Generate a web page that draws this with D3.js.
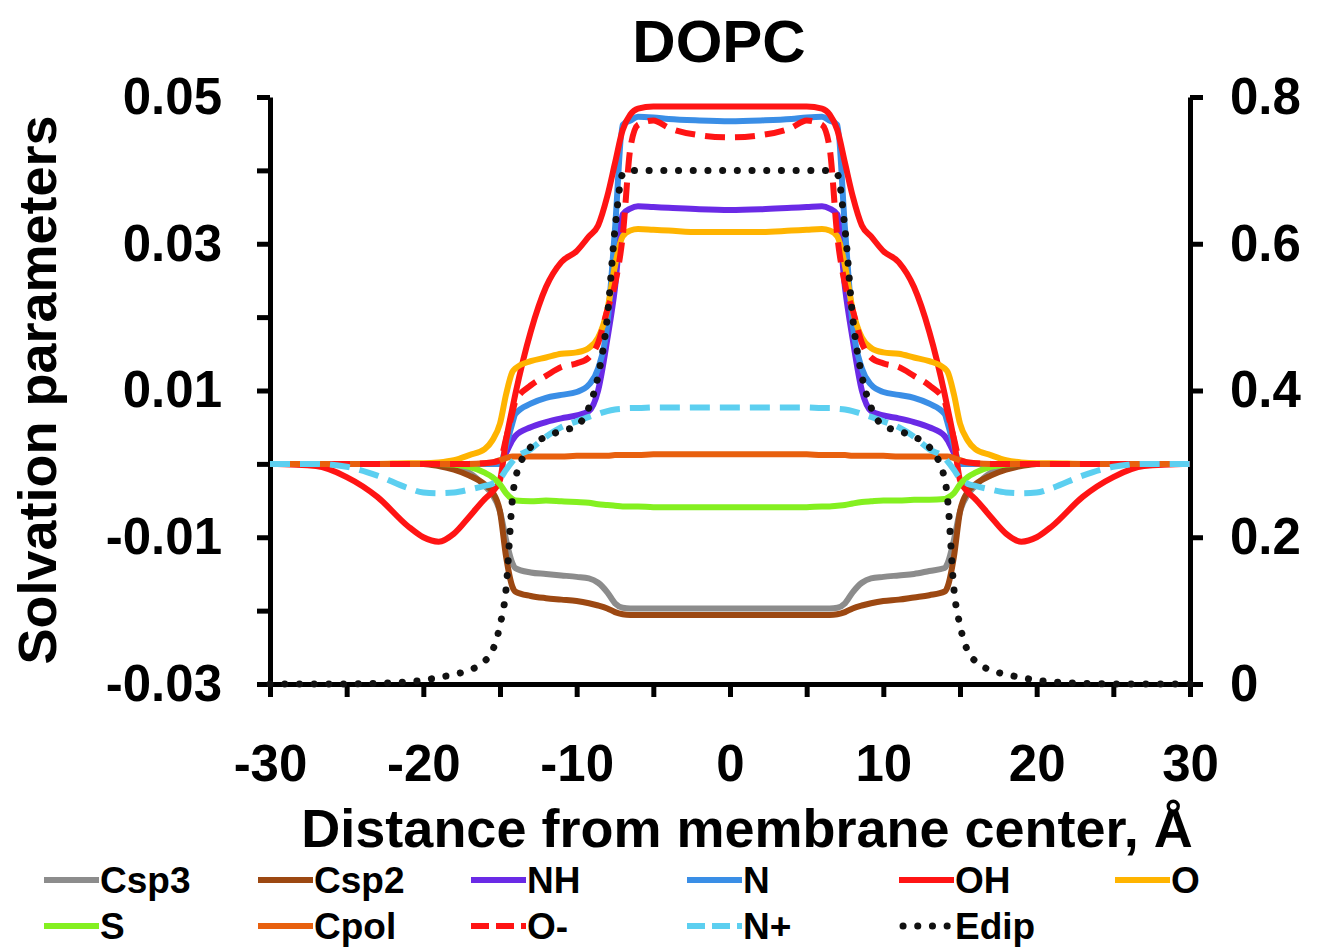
<!DOCTYPE html>
<html>
<head>
<meta charset="utf-8">
<script src="https://cdn.jsdelivr.net/npm/d3@7"></script>
<style>
  body { margin: 0; background: #fff; }
  text { font-family: "Liberation Sans", Arial, sans-serif; font-weight: bold; fill: #000; }
</style>
</head>
<body>
<div class="chart"></div>
<script>
// distance from membrane center, Å
const distance = [-30,-27,-25,-23,-21,-20,-19,-18,-17,-16,-15.5,-15,-14.6,-14.2,-14,-13,-12,-11,-10,-9.2,-8.6,-8,-7.5,-7,-6.5,-6,-5,-4,-2,
    0,
    2,4,5,6,6.5,7,7.5,8,8.6,9.2,10,11,12,13,14,14.2,14.6,15,15.5,16,17,18,19,20,21,23,25,27,30];

const csp3 = [0,0,0,0,0,0,0,-0.0004,-0.0012,-0.003,-0.0042,-0.0065,-0.0104,-0.0135,-0.0142,-0.0148,-0.015,-0.0152,-0.0154,-0.0156,-0.0162,-0.0175,-0.019,-0.0196,-0.0197,-0.0197,-0.0197,-0.0197,-0.0197,
    -0.0197,
    -0.0197,-0.0197,-0.0197,-0.0197,-0.0197,-0.0196,-0.019,-0.0175,-0.0162,-0.0156,-0.0154,-0.0152,-0.015,-0.0146,-0.0142,-0.0135,-0.0104,-0.0065,-0.0042,-0.003,-0.0012,-0.0004,0,0,0,0,0,0,0];
const csp2 = [0,0,0,0,0,0,-0.0003,-0.0008,-0.0016,-0.0028,-0.0038,-0.0065,-0.0127,-0.0167,-0.0174,-0.018,-0.0183,-0.0185,-0.0187,-0.019,-0.0193,-0.0197,-0.0202,-0.0205,-0.0206,-0.0206,-0.0206,-0.0206,-0.0206,
    -0.0206,
    -0.0206,-0.0206,-0.0206,-0.0206,-0.0206,-0.0205,-0.0202,-0.0197,-0.0193,-0.019,-0.0187,-0.0185,-0.0182,-0.0179,-0.0174,-0.0167,-0.0127,-0.0065,-0.0038,-0.0028,-0.0016,-0.0008,-0.0003,0,0,0,0,0,0];
const nh = [0,0,0,0,0,0,0,0,0,0,0,0,0.0015,0.0032,0.0038,0.005,0.0057,0.0062,0.0066,0.0072,0.01,0.017,0.024,0.034,0.0348,0.0351,0.035,0.0349,0.0347,
    0.0346,
    0.0347,0.0349,0.035,0.0351,0.0348,0.034,0.024,0.017,0.01,0.0072,0.0066,0.0062,0.0057,0.005,0.0038,0.0032,0.0015,0,0,0,0,0,0,0,0,0,0,0,0];
const n = [0,0,0,0,0,0,0,0,0,0,0,0,0.0025,0.0055,0.0068,0.0082,0.009,0.0094,0.0098,0.0108,0.013,0.019,0.032,0.0462,0.0468,0.0473,0.0472,0.047,0.0468,
    0.0467,
    0.0468,0.047,0.0472,0.0473,0.0468,0.0462,0.032,0.019,0.013,0.0108,0.0098,0.0094,0.009,0.0082,0.0068,0.0055,0.0025,0,0,0,0,0,0,0,0,0,0,0,0];
const oh = [0,-0.0003,-0.0018,-0.0045,-0.0085,-0.01,-0.0106,-0.0095,-0.0072,-0.0048,-0.0038,-0.0022,0.0033,0.0075,0.0095,0.018,0.0241,0.0275,0.029,0.031,0.0325,0.0365,0.041,0.0455,0.0476,0.0484,0.0487,0.0487,0.0487,
    0.0487,
    0.0487,0.0487,0.0487,0.0484,0.0476,0.0455,0.041,0.0365,0.0325,0.031,0.029,0.0275,0.0241,0.018,0.0095,0.0075,0.0033,-0.0022,-0.0038,-0.0048,-0.0072,-0.0095,-0.0106,-0.01,-0.0085,-0.0045,-0.0018,-0.0003,0];
const o = [0,0,0,0,0.0001,0.0001,0.0002,0.0005,0.0012,0.002,0.0032,0.0055,0.0095,0.0125,0.013,0.014,0.0145,0.015,0.0152,0.0158,0.0172,0.021,0.027,0.031,0.0318,0.032,0.0319,0.0318,0.0316,
    0.0316,
    0.0316,0.0318,0.0319,0.032,0.0318,0.031,0.027,0.021,0.0172,0.0158,0.0152,0.015,0.0145,0.014,0.013,0.0125,0.0095,0.0055,0.0032,0.002,0.0012,0.0005,0.0002,0.0001,0.0001,0,0,0,0];
const s = [0,0,0,0,0,0,0,-0.0001,-0.0004,-0.0012,-0.0018,-0.0028,-0.004,-0.0048,-0.005,-0.0051,-0.005,-0.0051,-0.0052,-0.0053,-0.0055,-0.0056,-0.0057,-0.0058,-0.0058,-0.0058,-0.0059,-0.0059,-0.0059,
    -0.0059,
    -0.0059,-0.0059,-0.0059,-0.0058,-0.0058,-0.0057,-0.0056,-0.0054,-0.0052,-0.0051,-0.005,-0.005,-0.0049,-0.0049,-0.0048,-0.0046,-0.004,-0.0028,-0.0018,-0.0012,-0.0004,-0.0001,0,0,0,0,0,0,0];
const cpol = [0,0,0,0,0,0,0,0,0,0.0001,0.0002,0.0005,0.0008,0.001,0.001,0.001,0.001,0.001,0.0011,0.0011,0.0011,0.0011,0.0012,0.0012,0.0012,0.0012,0.0013,0.0013,0.0013,
    0.0013,
    0.0013,0.0013,0.0013,0.0012,0.0012,0.0012,0.0012,0.0011,0.0011,0.0011,0.0011,0.001,0.001,0.001,0.001,0.001,0.0008,0.0005,0.0002,0.0001,0,0,0,0,0,0,0,0,0];
const oMinus = [0,0,0,0,0,0,0,0,0,0.0001,0.0002,0.0005,0.0035,0.0069,0.0085,0.0107,0.012,0.0132,0.0137,0.0145,0.0165,0.021,0.0245,0.031,0.043,0.0462,0.0468,0.0458,0.0448,
    0.0445,
    0.0448,0.0458,0.0468,0.0462,0.043,0.031,0.0245,0.021,0.0165,0.0145,0.0137,0.0132,0.012,0.0107,0.0085,0.0069,0.0035,0.0005,0.0002,0.0001,0,0,0,0,0,0,0,0,0];
const nPlus = [0,0,-0.0004,-0.0016,-0.0033,-0.0039,-0.004,-0.0039,-0.0035,-0.003,-0.0027,-0.002,-0.0008,0.0003,0.0008,0.002,0.0037,0.005,0.0058,0.0064,0.0068,0.0072,0.0074,0.0075,0.0076,0.0076,0.0077,0.0077,0.0077,
    0.0077,
    0.0077,0.0077,0.0077,0.0076,0.0076,0.0075,0.0074,0.0072,0.0068,0.0064,0.0058,0.005,0.0037,0.002,0.0008,0.0003,-0.0008,-0.002,-0.0027,-0.003,-0.0035,-0.0039,-0.004,-0.0039,-0.0033,-0.0016,-0.0004,0,0];
// right axis
const edip = [0,0,0,0.001,0.003,0.005,0.009,0.013,0.019,0.031,0.045,0.08,0.13,0.25,0.28,0.323,0.337,0.345,0.352,0.377,0.42,0.5,0.62,0.695,0.7,0.7,0.7,0.7,0.7,
    0.7,
    0.7,0.7,0.7,0.7,0.7,0.695,0.62,0.5,0.42,0.377,0.352,0.345,0.337,0.323,0.28,0.25,0.13,0.08,0.045,0.031,0.019,0.013,0.009,0.005,0.003,0.001,0,0,0];

const seriesNames = ['Csp3', 'Csp2', 'NH', 'N', 'OH', 'O', 'S', 'Cpol', 'O-', 'N+', 'Edip'];
const seriesValues = [csp3, csp2, nh, n, oh, o, s, cpol, oMinus, nPlus, edip];

const xTicks = [-30, -25, -20, -15, -10, -5, 0, 5, 10, 15, 20, 25, 30];
const xLabels = [-30, -20, -10, 0, 10, 20, 30];
const yTicks = [-0.03, -0.02, -0.01, 0, 0.01, 0.02, 0.03, 0.04, 0.05];
const yLabels = ['-0.03', '', '-0.01', '', '0.01', '', '0.03', '', '0.05'];
const rTicks = [0, 0.2, 0.4, 0.6, 0.8];
const rLabels = ['0', '0.2', '0.4', '0.6', '0.8'];

const styles = {
    'Csp3': { color: '#8c8c8c', dash: null },
    'Csp2': { color: '#9c4812', dash: null },
    'NH':   { color: '#6a2ae6', dash: null },
    'N':    { color: '#3a8ee6', dash: null },
    'OH':   { color: '#ff1414', dash: null },
    'O':    { color: '#ffb400', dash: null },
    'S':    { color: '#84f020', dash: null },
    'Cpol': { color: '#e8600e', dash: null },
    'O-':   { color: '#ff1414', dash: '20 10' },
    'N+':   { color: '#5ccff0', dash: '20 10' },
    'Edip': { color: '#111111', dash: 'dot' }
};

const fullWidth = 1318;
const fullHeight = 949;
const margin = { top: 97, right: 128, bottom: 265, left: 270 };

const svg = d3.select('.chart')
    .append('svg')
        .attr('width', fullWidth)
        .attr('height', fullHeight);

const xScale = d3.scaleLinear()
    .domain([-30, 30])
    .range([margin.left, fullWidth - margin.right]);

const yScale = d3.scaleLinear()
    .domain([-0.03, 0.05])
    .range([fullHeight - margin.bottom, margin.top]);

const yScaleRight = d3.scaleLinear()
    .domain([0, 0.8])
    .range([fullHeight - margin.bottom, margin.top]);

const y0 = fullHeight - margin.bottom;

// axes
const xAxis = d3.axisBottom(xScale)
    .tickValues(xTicks)
    .tickFormat(d => xLabels.includes(d) ? String(d) : '')
    .tickSize(13)
    .tickSizeOuter(0)
    .tickPadding(48);

const yAxis = d3.axisLeft(yScale)
    .tickValues(yTicks)
    .tickFormat((d, i) => yLabels[i])
    .tickSize(13)
    .tickSizeOuter(0)
    .tickPadding(35);

const yAxisRight = d3.axisRight(yScaleRight)
    .tickValues(rTicks)
    .tickFormat((d, i) => rLabels[i])
    .tickSize(13)
    .tickSizeOuter(0)
    .tickPadding(27);

function styleAxis(g) {
    g.selectAll('.domain, .tick line')
        .attr('stroke', '#000')
        .attr('stroke-width', 5);
    g.selectAll('text')
        .attr('fill', '#000')
        .style('font-size', '51px')
        .style('font-family', '"Liberation Sans", Arial, sans-serif')
        .style('font-weight', 'bold');
}

svg.append('g')
    .attr('transform', `translate(0, ${y0})`)
    .call(xAxis)
    .call(styleAxis);

svg.append('g')
    .attr('transform', `translate(${margin.left}, 0)`)
    .call(yAxis)
    .call(styleAxis);

svg.append('g')
    .attr('transform', `translate(${fullWidth - margin.right}, 0)`)
    .call(yAxisRight)
    .call(styleAxis);

// lines
const lines = svg.append('g');
seriesNames.forEach((name, i) => {
    const st = styles[name];
    const ys = name === 'Edip' ? yScaleRight : yScale;
    const line = d3.line()
        .x(d => xScale(d[0]))
        .y(d => ys(d[1]))
        .curve(d3.curveMonotoneX);
    const pts = distance.map((x, j) => [x, seriesValues[i][j]]);
    const path = lines.append('path')
        .datum(pts)
        .attr('d', line)
        .attr('fill', 'none')
        .attr('stroke', st.color)
        .attr('stroke-width', name === 'Edip' ? 7 : 6)
        .attr('stroke-linejoin', 'round');
    if (st.dash === 'dot') {
        path.attr('stroke-dasharray', '0.1 14.6').attr('stroke-linecap', 'round');
    } else if (st.dash) {
        path.attr('stroke-dasharray', st.dash);
    }
});

// titles
svg.append('text')
    .attr('x', 719)
    .attr('y', 62)
    .attr('text-anchor', 'middle')
    .style('font-size', '60px')
    .text('DOPC');

svg.append('text')
    .attr('transform', 'translate(56, 390) rotate(-90)')
    .attr('text-anchor', 'middle')
    .style('font-size', '54px')
    .text('Solvation parameters');

svg.append('text')
    .attr('x', 747)
    .attr('y', 847)
    .attr('text-anchor', 'middle')
    .style('font-size', '54px')
    .text('Distance from membrane center, Å');

// legend
const legendCols = [44, 258, 471, 687, 899, 1115];
const legendRows = [880, 926];
const legend = svg.append('g');
seriesNames.forEach((name, i) => {
    const st = styles[name];
    const lx = legendCols[i % 6];
    const ly = legendRows[Math.floor(i / 6)];
    const l = legend.append('line')
        .attr('x1', lx).attr('x2', lx + 55)
        .attr('y1', ly).attr('y2', ly)
        .attr('stroke', st.color)
        .attr('stroke-width', name === 'Edip' ? 7 : 6);
    if (st.dash === 'dot') {
        l.attr('x1', lx + 4).attr('x2', lx + 52)
         .attr('stroke-dasharray', '0.1 14.6').attr('stroke-linecap', 'round');
    } else if (st.dash) {
        l.attr('stroke-dasharray', '18 7');
    }
    legend.append('text')
        .attr('x', lx + 56)
        .attr('y', ly + 13)
        .style('font-size', '37px')
        .text(name);
});
</script>
</body>
</html>
